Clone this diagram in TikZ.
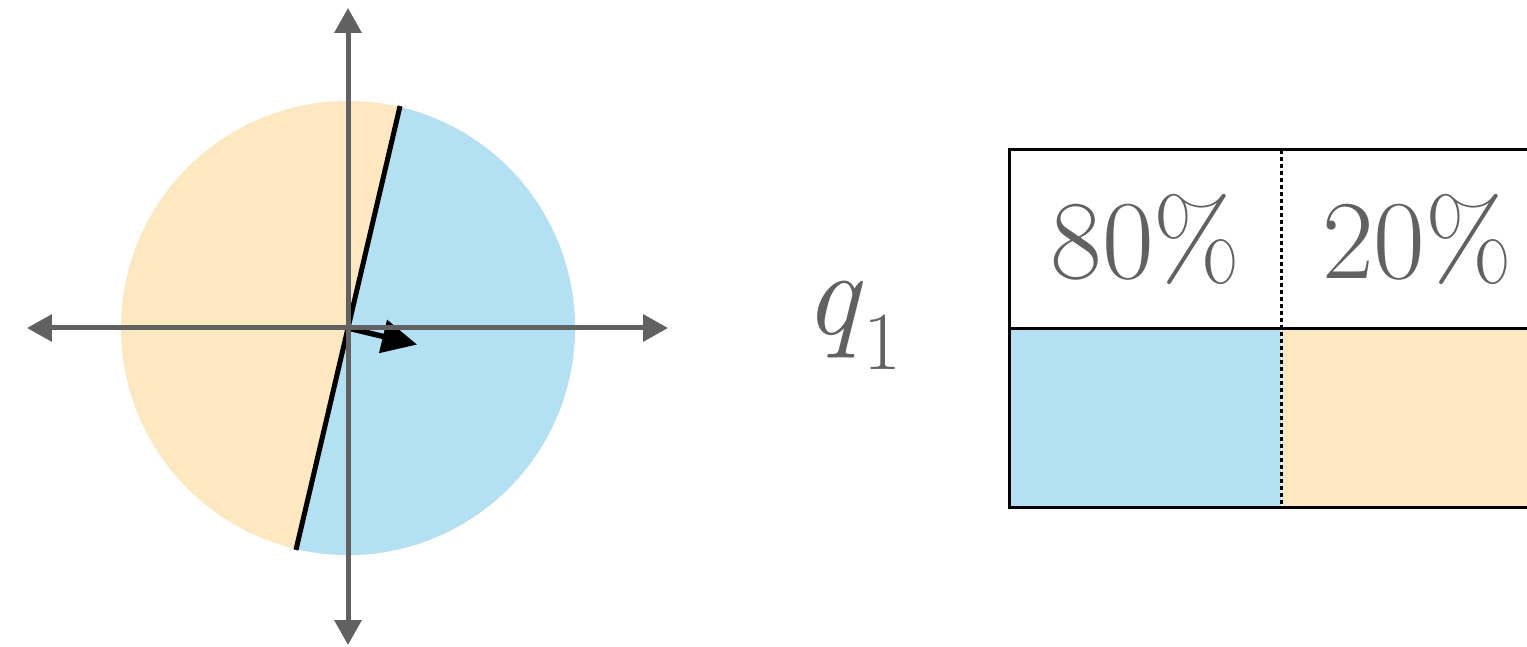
\documentclass[tikz,border=0pt]{standalone}
\usetikzlibrary{arrows.meta,positioning}
\definecolor{AxisGray}{HTML}{616161}
\definecolor{SkyFill}{HTML}{B3E0F2}
\definecolor{SandFill}{HTML}{FDE8C1}

\begin{document}
\begin{tikzpicture}[x=0.02cm,y=0.02cm,
  axisline/.style={draw=AxisGray,line width=0.1cm},
  cell/.style={minimum width=5.42cm,minimum height=3.56cm,inner sep=0pt,text=AxisGray,font=\fontsize{64}{70}\selectfont}]
  \clip (0,0) rectangle (1527,646);
  \coordinate (ctr) at (348,318);
  \coordinate (xl) at (27,318);
  \coordinate (xr) at (668,318);
  \coordinate (yt) at (348,638);
  \coordinate (yb) at (348,1);
  \path (ctr) ++(76.8:228) coordinate (cutA);
  \path (ctr) ++(256.8:228) coordinate (cutB);
  \path (ctr) ++(-13.5:71) coordinate (dirtip);
  % disc, split in two halves
  \fill[SandFill] (ctr) circle[radius=227];
  \fill[SkyFill] (ctr) -- ++(76.8:227) arc[start angle=76.8,end angle=-103.2,radius=227] -- cycle;
  \draw[black,line width=0.1cm] (cutA) -- (cutB);
  \draw[black,line width=0.11cm,-{Triangle[length=0.7cm,width=0.66cm]}] (ctr) -- (dirtip);
  % axes
  \draw[axisline,{Triangle[length=0.5cm,width=0.53cm]}-{Triangle[length=0.5cm,width=0.53cm]}] (xl) -- (xr);
  \draw[axisline,{Triangle[length=0.5cm,width=0.53cm]}-{Triangle[length=0.5cm,width=0.53cm]}] (yb) -- (yt);
  % label and table
  \node[anchor=base west,text=AxisGray,inner sep=0pt] (qlab) at (804,311)
    {\fontsize{69}{72}\selectfont\itshape q\kern0.1cm\raisebox{-0.7cm}{\upshape\fontsize{47}{50}\selectfont 1}};
  \node[cell] (c80) at (1145.5,407) {80\%};
  \node[cell,right=0pt of c80] (c20) {20\%};
  \node[cell,fill=SkyFill,below=0pt of c80] (cblue) {};
  \node[cell,fill=SandFill,below=0pt of c20] (csand) {};
  \draw[black,line width=0.06cm] (c80.north west) rectangle (csand.south east);
  \draw[black,line width=0.06cm] (c80.south west) -- (c20.south east);
  \draw[black,line width=0.06cm,dash pattern=on 0.08cm off 0.06cm] (c80.north east) -- (cblue.south east);
\end{tikzpicture}
\end{document}
